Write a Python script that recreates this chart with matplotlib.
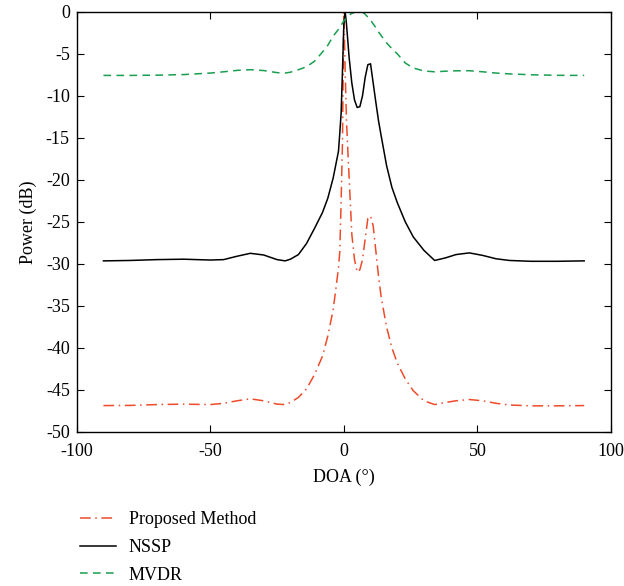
import matplotlib.pyplot as plt

plt.rcParams['font.family'] = ['Liberation Serif', 'DejaVu Serif']
plt.rcParams['axes.unicode_minus'] = False

# DOA grid (degrees)
doa = [-90, -80, -70, -60, -50, -45, -40, -35, -30, -25, -22, -20, -17, -14, -11, -8, -6, -4, -3, -2,
       -1.5, -1, -0.5, 0, 0.5, 1, 1.5, 2, 3, 4, 5, 6, 7, 8, 9, 10, 11, 12, 13, 14,
       16, 18, 20, 23, 26, 30, 34, 38, 42, 47, 52, 57, 62, 70, 80, 90]

# Proposed method spectrum (dB)
proposed = [-46.87, -46.85, -46.75, -46.7, -46.75, -46.6, -46.3, -46.07, -46.3, -46.7, -46.75, -46.5, -45.9, -44.9, -43.2, -41.0, -38.6, -35.5, -33.0, -30.5,
            -28.5, -22.4, -15.5, 0.0, -7.0, -13.0, -16.5, -19.8, -26.5, -29.5, -31.0, -30.7, -29.5, -27.0, -24.6, -24.3, -25.5, -28.5, -31.5, -34.0,
            -37.5, -40.0, -41.8, -43.7, -45.1, -46.3, -46.75, -46.5, -46.3, -46.15, -46.3, -46.6, -46.8, -46.9, -46.9, -46.87]

# NSSP spectrum (dB)
nssp = [-29.65, -29.6, -29.5, -29.45, -29.55, -29.5, -29.1, -28.75, -28.95, -29.5, -29.65, -29.45, -28.9, -27.6, -25.8, -23.9, -22.2, -19.8, -18.2, -16.6,
        -14.4, -12.0, -7.0, -1.5, 0.0, -1.5, -3.5, -5.5, -8.5, -10.5, -11.4, -11.3, -10.0, -7.8, -6.3, -6.2, -8.5, -10.8, -13.0, -14.8,
        -18.3, -20.9, -22.7, -25.0, -26.8, -28.4, -29.6, -29.3, -28.9, -28.7, -29.0, -29.4, -29.6, -29.7, -29.7, -29.65]

# MVDR spectrum (dB)
mvdr = [-7.58, -7.58, -7.55, -7.48, -7.3, -7.15, -6.98, -6.9, -7.0, -7.25, -7.3, -7.2, -6.9, -6.55, -5.9, -4.8, -4.0, -2.9, -2.5, -2.1,
        -1.85, -1.6, -1.35, -1.1, -0.9, -0.7, -0.55, -0.4, -0.2, -0.07, 0.0, 0.0, -0.07, -0.3, -0.65, -1.0, -1.45, -1.9, -2.4, -2.85,
        -3.7, -4.4, -5.0, -6.1, -6.7, -7.05, -7.15, -7.08, -7.03, -7.02, -7.15, -7.3, -7.4, -7.5, -7.57, -7.58]

fig = plt.figure(figsize=(6.24, 5.86), dpi=100)
ax = fig.add_axes([0.123, 0.263, 0.856, 0.717])

ax.plot(doa, proposed, color='#ee4b2b', linewidth=1.1, linestyle=(0, (7, 3, 1, 3)), label='Proposed Method')
ax.plot(doa, nssp, color='black', linewidth=1.1, label='NSSP')
ax.plot(doa, mvdr, color='#1a9e50', linewidth=1.1, linestyle=(0, (5, 3.5)), label='MVDR')

ax.set_xlim(-100, 100)
ax.set_ylim(-50, 0)
ax.set_xticks(range(-100, 101, 50))
ax.set_yticks(range(-50, 1, 5))
ax.tick_params(direction='in', top=True, right=True, labelsize=13, length=5)
ax.tick_params(axis='x', pad=8)
ax.tick_params(axis='y', pad=5)
for s in ax.spines.values():
    s.set_linewidth(1.0)
ax.set_xlabel('DOA (°)', fontsize=13, labelpad=6)
ax.set_ylabel('Power (dB)', fontsize=13, labelpad=6)

ax.legend(loc='upper left', bbox_to_anchor=(0.128, 0.128), bbox_transform=fig.transFigure,
          frameon=False, fontsize=13, handlelength=2.0, handletextpad=0.7,
          labelspacing=0.6, borderpad=0, borderaxespad=0)

fig.savefig('out.png', dpi=100)
